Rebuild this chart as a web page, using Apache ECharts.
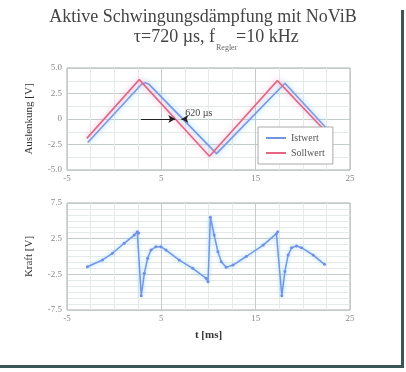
<!DOCTYPE html>
<html>
<head>
<meta charset="utf-8">
<script src="https://cdn.jsdelivr.net/npm/echarts@6/dist/echarts.min.js"></script>
<style>
  html, body { margin: 0; padding: 0; background: #fff; }
  #main { width: 406px; height: 372px; }
</style>
</head>
<body>
<div id="main"></div>
<script>
// Auslenkung, Istwert (blau) und Sollwert (rot)
var istX = [-2.8, 2.9, 3.3, 3.7, 10.85, 18.1, 22.5];
var istY = [-2.3, 3.4, 3.55, 3.4, -3.4, 3.5, -0.9];
var sollX = [-2.9, 2.66, 10.1, 17.3, 22.1];
var sollY = [-1.9, 3.86, -3.66, 3.76, -0.9];

// Kraft
var kraftX = [-2.84, -1.24, -0.18, 1.06, 2.13, 2.45, 2.6, 2.87, 3.2, 3.55, 3.9, 4.43, 4.96, 5.5, 6.9, 8.33, 9.75, 9.95,
  10.2, 10.6, 11.0, 11.35, 11.88, 12.6, 14.0, 15.8, 17.2, 17.34, 17.77, 18.1, 18.44, 18.8, 19.33, 19.86, 21.1, 22.3];
var kraftY = [-1.43, -0.49, 0.45, 1.85, 3.0, 3.48, 3.3, -5.5, -2.36, -0.25, 0.9, 1.37, 1.37, 0.9, -0.5, -1.66, -3.06, -3.53,
  5.5, 3.0, 0.67, -0.72, -1.52, -1.2, 0.0, 1.6, 3.2, 3.48, -5.5, -2.1, 0.2, 1.23, 1.47, 1.23, 0.2, -1.1];

// Zeitverschiebung 620 µs (Nulldurchgaenge)
var sollZero = 6.48;
var istZero = 7.13;
var arrowFrom = [2.85, 7.6];

var xTickLabels = [-5, 5, 15, 25];
var auslTickLabels = ['5.0', '2.5', '0', '-2.5', '-5.0'];
var kraftTickLabels = [7.5, 2.5, -2.5, -7.5];

function pairs(xs, ys) {
  return xs.map(function (x, i) { return [x, ys[i]]; });
}

var serif = '"Liberation Serif", "DejaVu Serif", serif';
var major = '#c3ccc8';
var minor = '#e4eae7';

function xAx(idx) {
  return {
    type: 'value', gridIndex: idx, min: -5, max: 25, interval: 5,
    axisLine: { show: false }, axisTick: { show: false },
    axisLabel: {
      color: '#888', fontFamily: serif, fontSize: 9, margin: 4,
      formatter: function (v) { return xTickLabels.indexOf(v) >= 0 ? String(v) : ''; }
    },
    splitLine: { show: true, lineStyle: { color: [major, minor] } },
    minorTick: { show: false, splitNumber: 2 },
    minorSplitLine: { show: true, lineStyle: { color: minor } },
    name: idx === 1 ? 't [ms]' : '', nameLocation: 'middle', nameGap: 20,
    nameTextStyle: { color: '#333', fontFamily: serif, fontSize: 11, fontWeight: 'bold' }
  };
}

var option = {
  animation: false,
  backgroundColor: '#fff',
  graphic: [
    { type: 'text', left: 'center', top: 8, style: { text: 'Aktive Schwingungsdämpfung mit NoViB', font: '18px ' + serif, fill: '#444' } },
    { type: 'text', x: 215, y: 28, style: { text: 'τ=720 µs, f', font: '18px ' + serif, fill: '#444', textAlign: 'right' } },
    { type: 'text', x: 216, y: 44, style: { text: 'Regler', font: '8px ' + serif, fill: '#666' } },
    { type: 'text', x: 236, y: 28, style: { text: '=10 kHz', font: '18px ' + serif, fill: '#444' } },
    { type: 'rect', shape: { x: 401, y: 10, width: 3, height: 358 }, style: { fill: '#3b5656' } },
    { type: 'rect', shape: { x: 0, y: 365, width: 404, height: 3 }, style: { fill: '#3b5656' } }
  ],
  legend: {
    left: 258, top: 127, orient: 'vertical',
    backgroundColor: '#fff', borderColor: '#aaa', borderWidth: 1,
    padding: [6, 8, 6, 8], itemGap: 5, itemWidth: 20, itemHeight: 2,
    icon: 'rect',
    textStyle: { color: '#555', fontFamily: serif, fontSize: 10 },
    data: ['Istwert', 'Sollwert']
  },
  grid: [
    { left: 67, right: 56, top: 68, height: 102, show: true, borderColor: '#aaa', borderWidth: 1, backgroundColor: 'transparent' },
    { left: 67, right: 56, top: 203, height: 107, show: true, borderColor: '#aaa', borderWidth: 1, backgroundColor: 'transparent' }
  ],
  xAxis: [xAx(0), xAx(1)],
  yAxis: [
    {
      type: 'value', gridIndex: 0, min: -5, max: 5, interval: 2.5,
      axisLine: { show: false }, axisTick: { show: false },
      axisLabel: {
        color: '#888', fontFamily: serif, fontSize: 9, margin: 5,
        formatter: function (v) { return auslTickLabels[Math.round((5 - v) / 2.5)]; }
      },
      splitLine: { show: true, lineStyle: { color: major } },
      minorTick: { show: false, splitNumber: 2 },
      minorSplitLine: { show: true, lineStyle: { color: minor } },
      name: 'Auslenkung [V]', nameLocation: 'middle', nameGap: 32,
      nameTextStyle: { color: '#333', fontFamily: serif, fontSize: 11 }
    },
    {
      type: 'value', gridIndex: 1, min: -7.5, max: 7.5, interval: 2.5,
      axisLine: { show: false }, axisTick: { show: false },
      axisLabel: {
        color: '#888', fontFamily: serif, fontSize: 9, margin: 5,
        formatter: function (v) { return kraftTickLabels.indexOf(v) >= 0 ? String(v) : ''; }
      },
      splitLine: { show: true, lineStyle: { color: [major, minor] } },
      minorTick: { show: false, splitNumber: 3 },
      minorSplitLine: { show: true, lineStyle: { color: minor } },
      name: 'Kraft [V]', nameLocation: 'middle', nameGap: 32,
      nameTextStyle: { color: '#333', fontFamily: serif, fontSize: 11 }
    }
  ],
  series: [
    {
      name: 'Istwert', type: 'line', xAxisIndex: 0, yAxisIndex: 0,
      data: pairs(istX, istY), showSymbol: false, color: '#7495e6',
      lineStyle: { width: 1.6, color: '#7495e6', shadowColor: 'rgba(110,215,240,1)', shadowBlur: 6 }
    },
    {
      name: 'Sollwert', type: 'line', xAxisIndex: 0, yAxisIndex: 0,
      data: pairs(sollX, sollY), showSymbol: false, color: '#e66484',
      lineStyle: { width: 1.6, color: '#e66484', shadowColor: 'rgba(245,160,205,1)', shadowBlur: 6 },
      markLine: {
        silent: true, symbol: ['none', 'arrow'], symbolSize: [6, 7],
        lineStyle: { color: '#222', width: 1, type: 'solid', shadowBlur: 0 },
        label: { show: false },
        data: [
          [{ coord: [arrowFrom[0], 0] }, { coord: [sollZero, 0] }],
          [{ coord: [arrowFrom[1], 0] }, { coord: [istZero, 0] }]
        ]
      },
      markPoint: {
        silent: true, symbol: 'rect', symbolSize: 0.1,
        label: { show: true, position: 'inside', formatter: '620 µs', color: '#444', fontFamily: serif, fontSize: 10 },
        data: [{ coord: [(arrowFrom[1] + istZero) / 2 + 1.6, 0.6] }]
      }
    },
    {
      name: 'Kraft', type: 'line', xAxisIndex: 1, yAxisIndex: 1,
      data: pairs(kraftX, kraftY), symbol: 'circle', symbolSize: 3, showSymbol: true,
      color: '#6f8fe6',
      itemStyle: { color: '#6f8fe6' },
      lineStyle: { width: 1.5, color: '#7396e8', shadowColor: 'rgba(120,200,240,0.8)', shadowBlur: 4 }
    }
  ]
};

var myChart = echarts.init(document.getElementById('main'));
myChart.setOption(option);
</script>
</body>
</html>
